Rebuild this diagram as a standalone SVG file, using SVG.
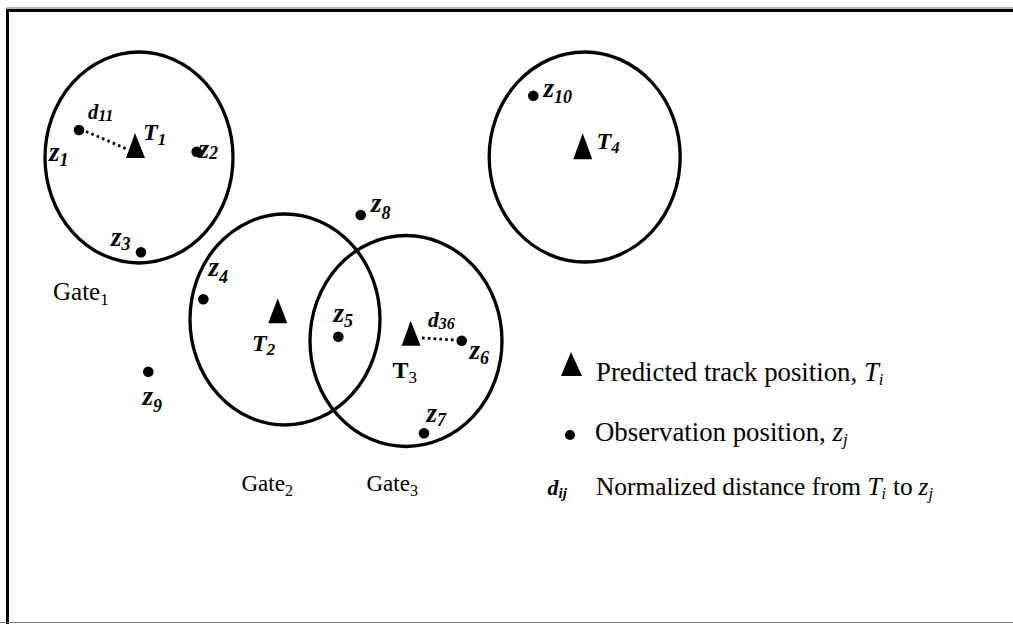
<svg xmlns="http://www.w3.org/2000/svg" width="1013" height="624" viewBox="0 0 1013 624">
  <style>
    .gate { fill: none; stroke: #000; stroke-width: 3.3; }
    .tri { fill: #000; }
    .obs { fill: #000; }
    .lbl { font-family: "Liberation Serif", "Times New Roman", serif; font-style: italic; font-weight: bold; fill: #000; }
    .z { font-size: 27px; }
    .zs { font-size: 18px; }
    .t { font-size: 24px; }
    .ts { font-size: 17px; }
    .up { font-style: normal; }
    .txt { font-family: "Liberation Serif", "Times New Roman", serif; fill: #000; }
    .it { font-style: italic; }
    .dots { fill: none; stroke: #000; stroke-width: 2.8; stroke-dasharray: 2.6 3.2; }
  </style>

  <!-- frame -->
  <g id="frame">
    <rect x="0" y="0" width="1013" height="624" fill="#fff"/>
    <line x1="6" y1="8" x2="1013" y2="8" stroke="#777" stroke-width="1"/>
    <line x1="6" y1="10.5" x2="1013" y2="10.5" stroke="#000" stroke-width="3"/>
    <line x1="7.5" y1="9" x2="7.5" y2="624" stroke="#000" stroke-width="3"/>
    <line x1="0" y1="622.5" x2="1013" y2="622.5" stroke="#777" stroke-width="1.2"/>
  </g>

  <!-- validation gates -->
  <g id="gate1">
    <ellipse class="gate" cx="139" cy="157.5" rx="94" ry="105.5"/>
    <text class="txt" x="53" y="300" font-size="25">Gate<tspan font-size="17" dy="5">1</tspan></text>
  </g>
  <g id="gate2">
    <ellipse class="gate" cx="285" cy="319.5" rx="95" ry="105.5"/>
    <text class="txt" x="241.5" y="490.5" font-size="23">Gate<tspan font-size="16" dy="5">2</tspan></text>
  </g>
  <g id="gate3">
    <ellipse class="gate" cx="406" cy="341" rx="96" ry="105.5"/>
    <text class="txt" x="366.5" y="490.5" font-size="23">Gate<tspan font-size="16" dy="5">3</tspan></text>
  </g>
  <g id="gate4">
    <ellipse class="gate" cx="584.7" cy="157" rx="95.5" ry="105"/>
  </g>

  <!-- distance connectors -->
  <g id="connectors">
    <line class="dots" x1="86" y1="131.5" x2="127" y2="149"/>
    <line class="dots" x1="422" y1="338" x2="455" y2="340"/>
  </g>
  <g id="distance-labels">
    <text class="lbl" x="88" y="119" font-size="20.5">d<tspan font-size="16" dy="2">11</tspan></text>
    <text class="lbl" x="428" y="326.5" font-size="21.5">d<tspan font-size="16" dy="2">36</tspan></text>
  </g>

  <!-- predicted track positions -->
  <g id="T1">
    <polygon class="tri" points="135,133 126,158 145,158"/>
    <text class="lbl t" x="143" y="140">T<tspan class="ts" dy="5">1</tspan></text>
  </g>
  <g id="T2">
    <polygon class="tri" points="277.7,298.3 268.3,323.3 287.3,323.3"/>
    <text class="lbl t" x="252" y="350.5">T<tspan class="ts" dy="4">2</tspan></text>
  </g>
  <g id="T3">
    <polygon class="tri" points="410.7,320.7 401.7,345.7 420.5,345.7"/>
    <text class="lbl t up" x="392.5" y="378">T<tspan class="ts" font-weight="normal" dy="4.5">3</tspan></text>
  </g>
  <g id="T4">
    <polygon class="tri" points="582.7,133.3 573.3,159.3 592.3,159.3"/>
    <text class="lbl t" x="596.5" y="149">T<tspan class="ts" dy="4">4</tspan></text>
  </g>

  <!-- observations -->
  <g id="z1">
    <circle class="obs" cx="79" cy="130" r="5.3"/>
    <text class="lbl z" x="49" y="161">z<tspan class="zs" dy="4.5">1</tspan></text>
  </g>
  <g id="z2">
    <circle class="obs" cx="196.7" cy="151.7" r="5.3"/>
    <text class="lbl z" x="198.5" y="158">z<tspan class="zs" dy="1">2</tspan></text>
  </g>
  <g id="z3">
    <circle class="obs" cx="141" cy="252.3" r="5.3"/>
    <text class="lbl z" x="111" y="246">z<tspan class="zs" dy="4">3</tspan></text>
  </g>
  <g id="z4">
    <circle class="obs" cx="203.3" cy="299.3" r="5.3"/>
    <text class="lbl z" x="208.5" y="276">z<tspan class="zs" dy="6.5">4</tspan></text>
  </g>
  <g id="z5">
    <circle class="obs" cx="338.3" cy="336.7" r="5.3"/>
    <text class="lbl z" x="333.5" y="322">z<tspan class="zs" dy="5">5</tspan></text>
  </g>
  <g id="z6">
    <circle class="obs" cx="461.7" cy="340.7" r="5.3"/>
    <text class="lbl z" x="469.5" y="359">z<tspan class="zs" dy="4.5">6</tspan></text>
  </g>
  <g id="z7">
    <circle class="obs" cx="424" cy="433.3" r="5.3"/>
    <text class="lbl z" x="426.5" y="422">z<tspan class="zs" dy="4">7</tspan></text>
  </g>
  <g id="z8">
    <circle class="obs" cx="360.7" cy="215" r="5.3"/>
    <text class="lbl z" x="371" y="212">z<tspan class="zs" dy="6.5">8</tspan></text>
  </g>
  <g id="z9">
    <circle class="obs" cx="148.3" cy="371.7" r="5.3"/>
    <text class="lbl z" x="142.5" y="405">z<tspan class="zs" dy="6.5">9</tspan></text>
  </g>
  <g id="z10">
    <circle class="obs" cx="533.3" cy="95.7" r="5.3"/>
    <text class="lbl z" x="543.5" y="97">z<tspan class="zs" dy="6">10</tspan></text>
  </g>

  <!-- legend -->
  <g id="legend">
    <polygon class="tri" points="571,352 561,376 582,376"/>
    <text class="txt" x="596" y="381" font-size="26.8">Predicted track position, <tspan class="it">T</tspan><tspan class="it" font-size="17" dy="4">i</tspan></text>
    <circle class="obs" cx="570" cy="435" r="5"/>
    <text class="txt" x="595" y="441" font-size="26.8">Observation position, <tspan class="it">z</tspan><tspan class="it" font-size="17" dy="4">j</tspan></text>
    <text class="lbl" x="547.5" y="495" font-size="22">d<tspan font-size="15" dy="3">ij</tspan></text>
    <text class="txt" x="596" y="495" font-size="25.4">Normalized distance from <tspan class="it">T</tspan><tspan class="it" font-size="16" dy="4">i</tspan><tspan x="893" dy="-4">to</tspan><tspan class="it" x="918.5">z</tspan><tspan class="it" font-size="16" dy="4">j</tspan></text>
  </g>
</svg>
